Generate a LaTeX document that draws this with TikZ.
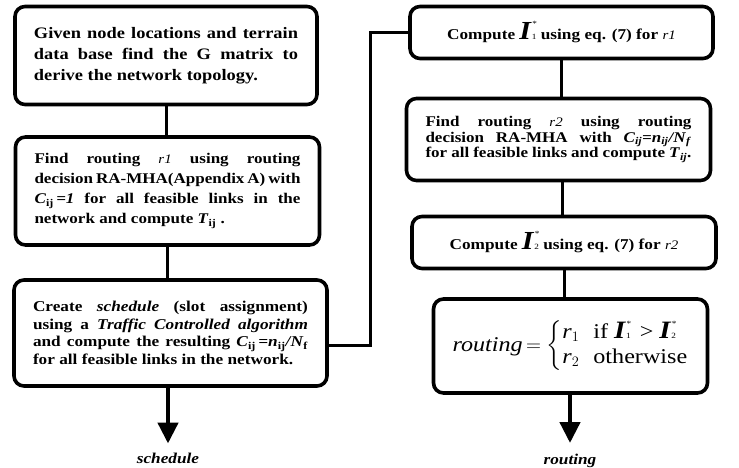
\documentclass[tikz,border=0pt]{standalone}
\usepackage{fontspec}
\setmainfont{Liberation Serif}[FakeStretch=1.15]
\usepackage{amsmath}
\usetikzlibrary{arrows.meta,positioning}

% bold italic I with star and index
\newcommand{\Istar}[2]{{\fontsize{#1}{#1}\selectfont\bfseries\itshape I\/}\rlap{\hspace{0.5pt}\raisebox{\dimexpr #1pt*50/100\relax}{\fontsize{8}{8}\selectfont\normalfont *}}{\fontsize{8}{8}\selectfont\normalfont #2}}
\newcommand{\rr}[1]{{\fontsize{13}{13}\selectfont\mdseries\itshape r#1}}

\hyphenpenalty=10000
\exhyphenpenalty=10000

\begin{document}
\begin{tikzpicture}[x=1pt,y=-1pt,
		proc/.style={draw, line width=3.6pt, rounded corners=10pt, inner xsep=19pt, inner ysep=4pt},
		link/.style={line width=3pt},
		result/.style={line width=4.5pt, -{Triangle[length=21pt,width=20pt]}},
		outlabel/.style={font=\fontsize{15}{15}\selectfont\bfseries\itshape, inner sep=3pt}]
		\useasboundingbox (0,0) rectangle (739,468);

		% left column
		\node[proc, align=justify, text width=264pt, minimum height=98pt, font=\fontsize{16}{21}\selectfont\bfseries] (topo) at (166,55.5)
			{Given node locations and terrain data base find the G matrix to derive the network topology.};
		\node[proc, align=justify, text width=266pt, minimum height=108pt, font=\fontsize{14.8}{20}\selectfont\bfseries] (route1) at (167.5,191)
			{Find routing \rr{1} using routing\linebreak decision RA-MHA(Appendix A) with\linebreak \textit{C}\textsubscript{ij}\,\textit{=1} for all feasible links in the\linebreak network and compute \textit{T}\textsubscript{ij}~.};
		\node[proc, align=justify, text width=275pt, minimum height=106pt, font=\fontsize{15}{17.5}\selectfont\bfseries] (sched) at (170.5,333)
			{Create \textit{schedule} (slot assignment) using a \textit{Traffic Controlled algorithm} and compute the resulting \textit{C}\textsubscript{ij}\,\textit{=n}\textsubscript{ij}\textit{/N}\textsubscript{f} for all feasible links in the network.};

		% right column
		\node[proc, align=center, minimum width=303pt, minimum height=52pt, font=\fontsize{15}{17}\selectfont\bfseries] (eval1) at (561.5,32.5)
			{Compute \Istar{26}{1} using eq. (7) for \rr{1}};
		\node[proc, align=justify, text width=266pt, minimum height=82pt, font=\fontsize{14.8}{15.5}\selectfont\bfseries] (route2) at (558.5,139.5)
			{Find routing \rr{2} using routing\linebreak decision RA-MHA with \textit{C}\textsubscript{\textit{ij}}\textit{=n}\textsubscript{\textit{ij}}\textit{/N}\textsubscript{\textit{f}}\linebreak for all feasible links and compute \textit{T}\textsubscript{\textit{ij}}.};
		\node[proc, align=center, minimum width=304pt, minimum height=52pt, font=\fontsize{15}{17}\selectfont\bfseries] (eval2) at (564,242.5)
			{Compute \Istar{26}{2} using eq. (7) for \rr{2}};
		\node[proc, align=center, minimum width=262pt, minimum height=94pt, font=\fontsize{21}{25}\selectfont] (choice) at (570.5,346)
			{\textit{routing}$\,=\left\{\begin{array}{@{}l@{\hspace{14pt}}l@{}}
				\textit{r}_{1} & \text{if \Istar{25}{1}\hspace{3pt} > \Istar{25}{2}}\\
				\textit{r}_{2} & \text{otherwise}
			\end{array}\right.$};

		\node[outlabel] (schedlbl) at (168,458) {schedule};
		\node[outlabel] (routelbl) at (570,461) {routing};

		\draw[link] (topo.south) -- (topo.south |- route1.north);
		\draw[link] (route1.south) -- (route1.south |- sched.north);
		\draw[link] ([yshift=-12pt]sched.east) -| (370,0 |- eval1.west) -- (eval1.west);
		\draw[link] (eval1.south) -- (eval1.south |- route2.north);
		\draw[link] (route2.south -| 562,0) -- (562,0 |- eval2.north);
		\draw[link] (eval2.south) -- (eval2.south |- choice.north);

		\draw[result] (sched.south -| schedlbl.north) -- ([yshift=6pt]schedlbl.north);
		\draw[result] (choice.south -| routelbl.north) -- ([yshift=8pt]routelbl.north);
	\end{tikzpicture}
\end{document}
